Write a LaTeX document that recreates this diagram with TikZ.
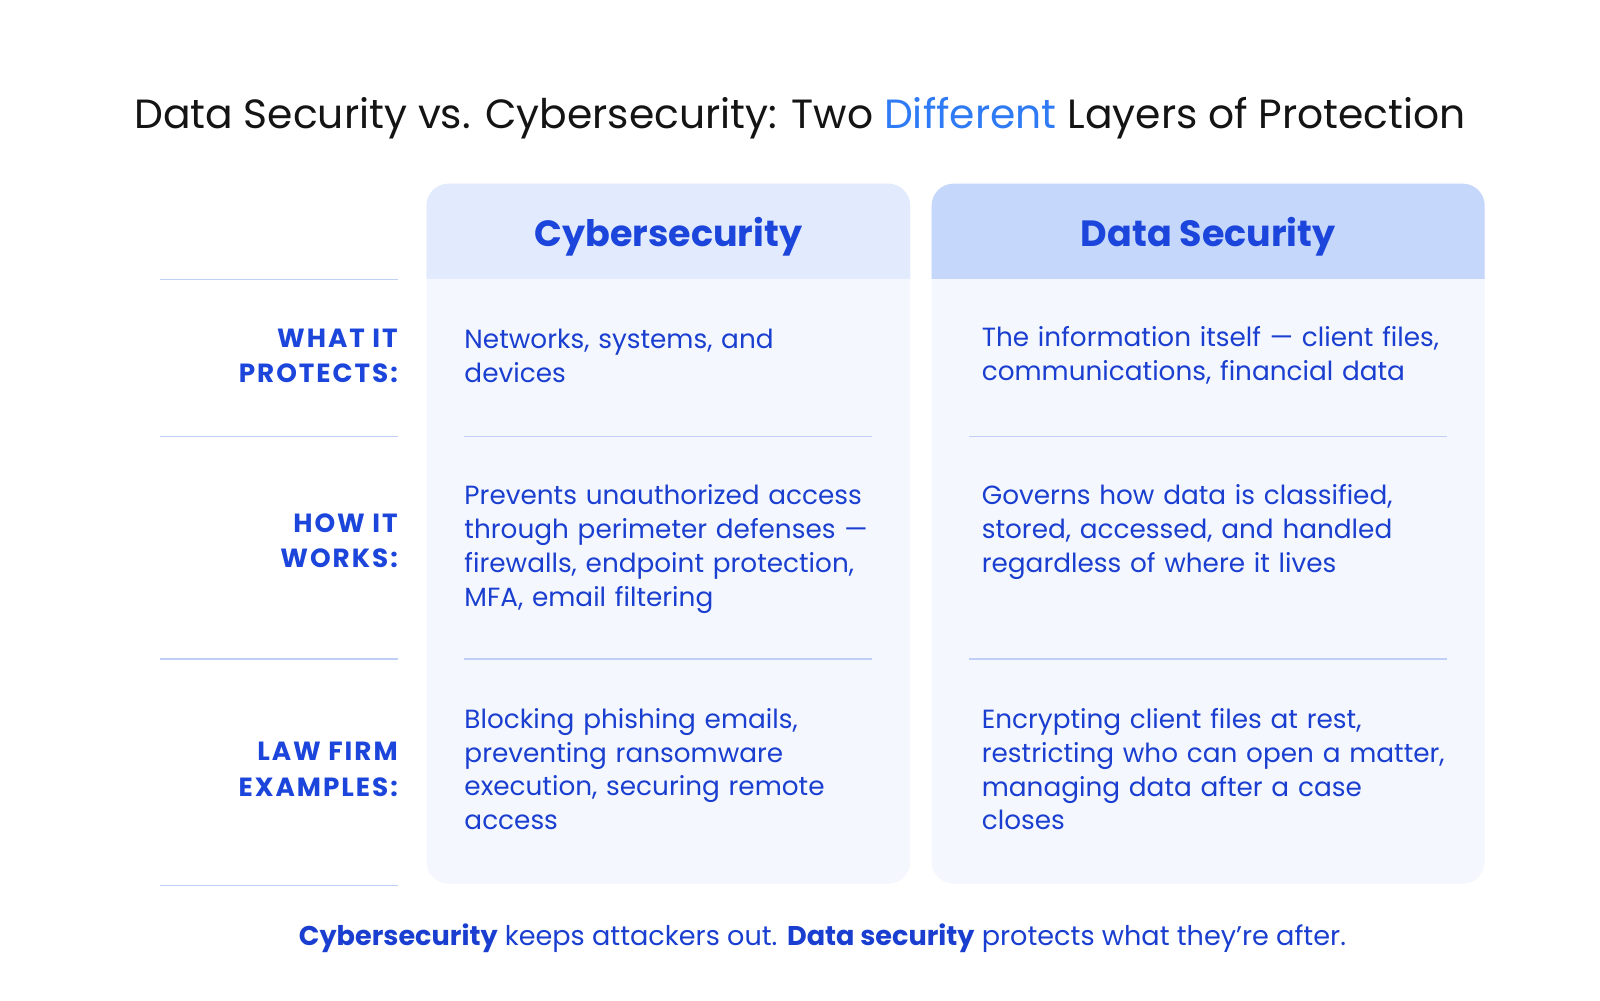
\documentclass[tikz,border=0pt]{standalone}
\usepackage{fontspec}
\setmainfont{Poppins}
\newfontfamily\lblfont[LetterSpace=7.5]{Poppins}
\definecolor{tblue}{HTML}{1A3FD0}
\definecolor{hblue}{HTML}{1B45DB}
\definecolor{dblue}{HTML}{2F7BF5}
\definecolor{hA}{HTML}{E2EAFD}
\definecolor{hB}{HTML}{C6D7FC}
\definecolor{bodyc}{HTML}{F4F7FE}
\definecolor{rule}{HTML}{BFCFF5}
\begin{document}
\begin{tikzpicture}[x=1.0204pt,y=-1.0204pt,
  body/.style={anchor=north west,inner sep=0pt,text width=500pt,align=left,text=tblue,font=\fontsize{26.3}{33.8}\selectfont},
  lbl/.style={anchor=north east,inner sep=0pt,align=right,text=hblue,font=\lblfont\bfseries\fontsize{26.3}{35.7}\selectfont},
  hdr/.style={text=hblue,font=\bfseries\fontsize{36.5}{40}\selectfont},
  rl/.style={draw=rule,line width=1.5pt}]
\useasboundingbox (0,0) rectangle (1568,980);
\fill[white] (0,0) rectangle (1568,980);
\node[font=\fontsize{40.8}{48}\selectfont,text=black!92] (title) at (784,116) {Data Security vs. Cybersecurity: Two \textcolor{dblue}{Different} Layers of Protection};
% panels
\fill[bodyc,rounded corners=22pt] (418,180) rectangle (892,866);
\fill[bodyc,rounded corners=22pt] (913,180) rectangle (1455,866);
\begin{scope}
\clip (0,180) rectangle (1600,273);
\fill[hA,rounded corners=22pt] (418,180) rectangle (892,320);
\fill[hB,rounded corners=22pt] (913,180) rectangle (1455,320);
\end{scope}
\node[hdr] (hc) at (655,232) {Cybersecurity};
\node[hdr] (hd) at (1184,232) {Data Security};
% rules
\foreach \y in {274,428,646,868} \draw[rl] (157,\y) -- (390,\y);
\foreach \y in {428,646} {\draw[rl] (455,\y) -- (855,\y); \draw[rl] (950,\y) -- (1418,\y);}
% labels
\node[lbl] (l1) at (390,322) {WHAT IT\\PROTECTS:};
\node[lbl] (l2) at (390,503) {HOW IT\\WORKS:};
\node[lbl] (l3) at (390,727) {LAW FIRM\\EXAMPLES:};
% body
\node[body] (c1) at (455,322) {Networks, systems, and\\devices};
\node[body] (d1) at (962,320) {The information itself — client files,\\communications, financial data};
\node[body] (c2) at (455,475) {Prevents unauthorized access\\through perimeter defenses —\\firewalls, endpoint protection,\\MFA, email filtering};
\node[body] (d2) at (962,475) {Governs how data is classified,\\stored, accessed, and handled\\regardless of where it lives};
\node[body] (c3) at (455,694) {Blocking phishing emails,\\preventing ransomware\\execution, securing remote\\access};
\node[body] (d3) at (962,694) {Encrypting client files at rest,\\restricting who can open a matter,\\managing data after a case\\closes};
\node[text=tblue,font=\fontsize{27.1}{30}\selectfont] (foot) at (806,919) {\textbf{Cybersecurity} keeps attackers out. \textbf{Data security} protects what they're after.};
\end{tikzpicture}
\end{document}
